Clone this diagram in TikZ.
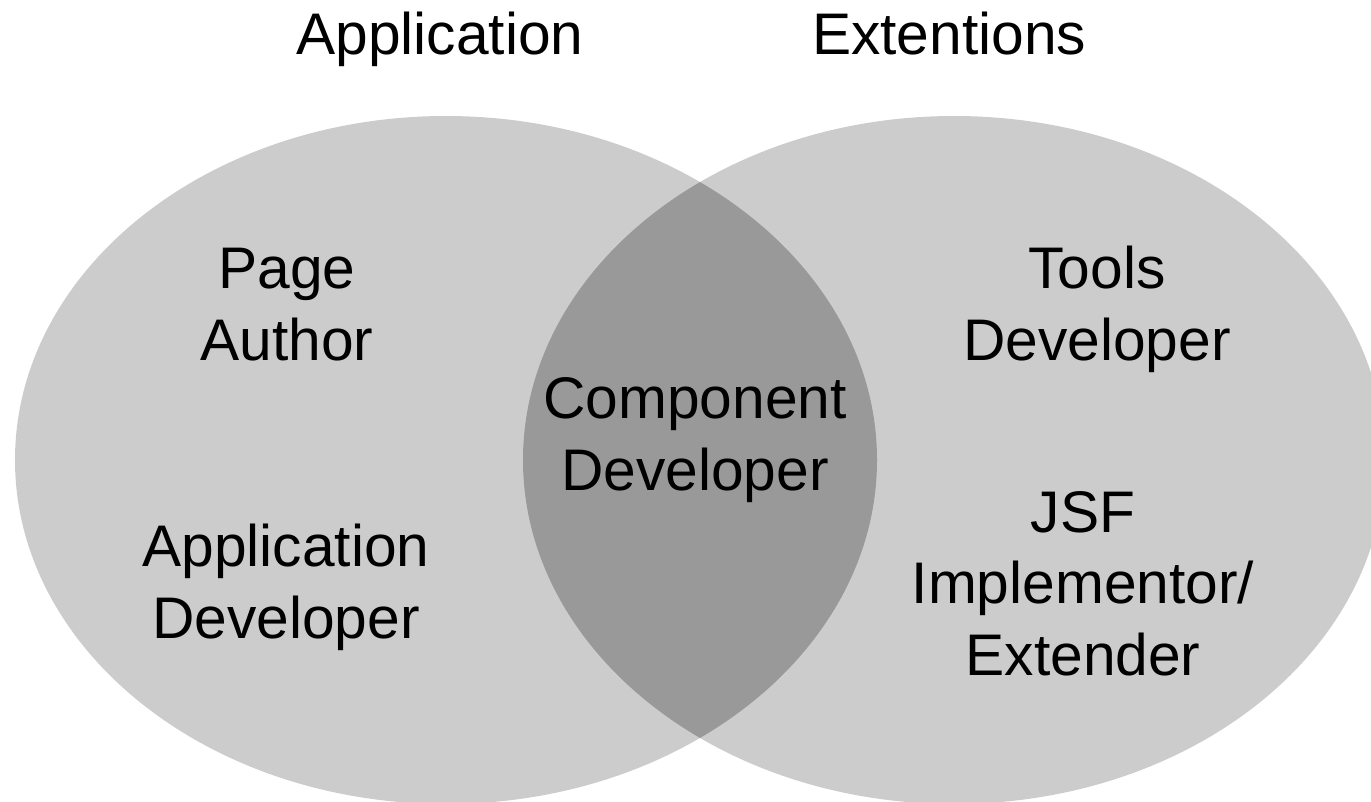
\documentclass[tikz,border=0pt]{standalone}
\usepackage{fontspec}
\setmainfont{Liberation Sans}
\definecolor{setgray}{HTML}{CCCCCC}
\definecolor{overlapgray}{HTML}{999999}
\usetikzlibrary{positioning}

\begin{document}
\begin{tikzpicture}[x=0.02cm,y=-0.02cm,
  role/.style={align=center,font=\fontsize{33.4}{40.5}\selectfont,anchor=base},
  title/.style={font=\fontsize{33.4}{40.5}\selectfont,anchor=base}
]
  \useasboundingbox (0,0) rectangle (1371,801);
  \clip (0,0) rectangle (1371,801);
  % the two sets and their overlap
  \fill[setgray] (446,460) ellipse [x radius=431, y radius=344];
  \fill[setgray] (954,460) ellipse [x radius=431, y radius=344];
  \begin{scope}
    \clip (446,460) ellipse [x radius=431, y radius=344];
    \fill[overlapgray] (954,460) ellipse [x radius=431, y radius=344];
  \end{scope}
  % set titles
  \node[title] (apptitle) at (440,54) {Application};
  \node[title] (exttitle) at (949,54) {Extentions};
  % roles (base is the last line)
  \node[role] (pageauthor) at (287,360) {Page\\Author};
  \node[role] (appdev)     at (286,638) {Application\\Developer};
  \node[role] (compdev)    at (695,490) {Component\\Developer};
  \node[role] (toolsdev)   at (1097,360) {Tools\\Developer};
  \node[role] (jsfimpl)    at (1083,675) {JSF\\Implementor/\\Extender};
\end{tikzpicture}
\end{document}
